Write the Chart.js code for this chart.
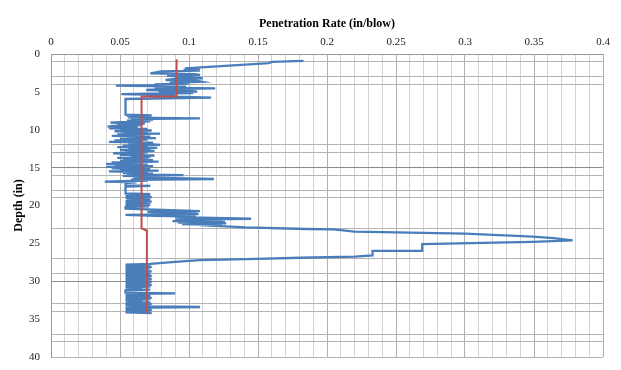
<!DOCTYPE html>
<html>
<head>
<meta charset="utf-8">
<script src="https://cdn.jsdelivr.net/npm/chart.js@4/dist/chart.umd.min.js"></script>
<style>
  body { margin: 0; background: #fff; }
</style>
</head>
<body>
<canvas id="myChart" width="621" height="370"></canvas>
<script>
/* globals Chart */

// penetration per blow (depth in inches, rate in in/blow)
const depthIn = [
  0.9, 1.05, 1.2, 1.9, 2.0, 2.1, 2.2, 2.3, 2.55, 2.65,
  2.77, 2.9, 3.0, 3.1, 3.2, 3.3, 3.43, 3.55, 3.65, 3.8,
  3.9, 4.0, 4.1, 4.18, 4.3, 4.4, 4.53, 4.65, 4.75, 4.85,
  4.97, 5.05, 5.15, 5.3, 5.45, 5.55, 5.65, 5.77, 5.94, 8.0,
  8.1, 8.2, 8.3, 8.4, 8.5, 8.6, 8.7, 8.8, 8.9, 9.0,
  9.07, 9.2, 9.3, 9.4, 9.5, 9.6, 9.7, 9.8, 9.9,
  10.0, 10.1, 10.2, 10.3, 10.4, 10.5, 10.6, 10.7, 10.8, 10.9,
  11.0, 11.1, 11.2, 11.3, 11.4, 11.5, 11.6, 11.7, 11.8, 11.9,
  12.0, 12.1, 12.2, 12.3, 12.4, 12.5, 12.6, 12.7, 12.8, 12.9,
  13.0, 13.1, 13.2, 13.3, 13.4, 13.5, 13.6, 13.7, 13.8, 13.9,
  14.0, 14.1, 14.2, 14.3, 14.4, 14.5, 14.6, 14.7, 14.8, 14.9,
  15.0, 15.1, 15.2, 15.3, 15.4, 15.5, 15.6, 15.7, 15.8, 15.9,
  16.0,
  16.1, 16.2, 16.3, 16.5, 16.6, 16.7, 16.85, 16.95, 17.05, 17.35,
  17.4, 17.5, 18.4,
  18.5, 18.6, 18.7, 18.8, 18.9, 19.0, 19.1, 19.2, 19.3, 19.4,
  19.5, 19.6, 19.7, 19.8, 19.9, 20.0, 20.1, 20.2,
  20.4, 20.75, 20.85, 20.95, 21.05, 21.15, 21.25, 21.35, 21.45, 21.55,
  21.75, 21.85, 21.95, 22.05, 22.15, 22.25, 22.35, 22.45, 22.55, 22.6,
  22.9, 23.1, 23.15, 23.45, 23.7, 24.1, 24.3, 24.6, 24.8, 25.1,
  26.0, 26.0, 26.6, 26.75, 26.9, 27.05, 27.2, 27.45, 27.7,
  27.8, 27.9, 28.0, 28.1, 28.2, 28.3, 28.4, 28.5, 28.6, 28.7,
  28.8, 28.9, 29.0, 29.1, 29.2, 29.3, 29.4, 29.5, 29.6, 29.7,
  29.8, 29.9, 30.0, 30.1, 30.2, 30.3, 30.4, 30.5, 30.6, 30.7,
  30.8, 30.9, 31.0, 31.1, 31.2, 31.5, 31.6, 31.7, 31.8, 31.9,
  32.0, 32.1, 32.2, 32.3, 32.4, 32.5, 32.6, 32.7, 32.8, 32.9,
  33.0, 33.1, 33.2, 33.3, 33.4, 33.5, 33.6, 33.7, 33.8, 33.9,
  34.0, 34.1, 34.2,
];
const rateBlow = [
  0.183, 0.160, 0.158, 0.097, 0.108, 0.096, 0.108, 0.080, 0.072, 0.104,
  0.108, 0.084, 0.102, 0.090, 0.110, 0.090, 0.083, 0.106, 0.109, 0.086,
  0.100, 0.075, 0.082, 0.047, 0.098, 0.075, 0.119, 0.080, 0.069, 0.100,
  0.106, 0.078, 0.103, 0.051, 0.090, 0.072, 0.098, 0.116, 0.054, 0.054,
  0.073, 0.055, 0.072, 0.056, 0.108, 0.058, 0.074, 0.055, 0.072, 0.050,
  0.043, 0.068, 0.048, 0.066, 0.045, 0.041, 0.063, 0.042, 0.070,
  0.050, 0.073, 0.046, 0.070, 0.052, 0.079, 0.048, 0.068, 0.044, 0.072,
  0.055, 0.076, 0.050, 0.070, 0.046, 0.066, 0.042, 0.074, 0.056, 0.072,
  0.079, 0.052, 0.070, 0.048, 0.077, 0.056, 0.072, 0.050, 0.075, 0.054,
  0.070, 0.045, 0.068, 0.050, 0.075, 0.058, 0.072, 0.048, 0.070, 0.052,
  0.074, 0.050, 0.078, 0.044, 0.066, 0.040, 0.070, 0.046, 0.074, 0.040,
  0.068, 0.044, 0.072, 0.050, 0.078, 0.042, 0.070, 0.052, 0.074, 0.055,
  0.096,
  0.052, 0.072, 0.060, 0.118, 0.058, 0.070, 0.039, 0.062, 0.054, 0.054,
  0.072, 0.054, 0.054,
  0.072, 0.054, 0.072, 0.054, 0.073, 0.054, 0.072, 0.055, 0.072, 0.054,
  0.073, 0.054, 0.072, 0.054, 0.072, 0.054, 0.071, 0.054,
  0.054, 0.108, 0.070, 0.106, 0.072, 0.107, 0.054, 0.075, 0.105, 0.090,
  0.145, 0.090, 0.124, 0.088, 0.126, 0.092, 0.127, 0.095, 0.124, 0.108,
  0.141, 0.185, 0.205, 0.220, 0.300, 0.349, 0.364, 0.378, 0.349, 0.269,
  0.269, 0.233, 0.233, 0.220, 0.181, 0.149, 0.108, 0.090, 0.072,
  0.054, 0.072, 0.054, 0.073, 0.054, 0.072, 0.054, 0.071, 0.054, 0.073,
  0.054, 0.072, 0.054, 0.072, 0.054, 0.073, 0.054, 0.072, 0.054, 0.073,
  0.054, 0.072, 0.054, 0.073, 0.054, 0.072, 0.054, 0.073, 0.054, 0.072,
  0.054, 0.066, 0.054, 0.072, 0.054, 0.054, 0.090, 0.054, 0.072, 0.054,
  0.072, 0.054, 0.073, 0.054, 0.072, 0.054, 0.066, 0.054, 0.072, 0.054,
  0.073, 0.054, 0.072, 0.054, 0.108, 0.054, 0.072, 0.054, 0.073, 0.054,
  0.072, 0.054, 0.073,
];

// average rate per layer (red step line)
const avgDepth = [0.7, 5.6, 5.6, 23.0, 23.3, 34.2];
const avgRate = [0.091, 0.091, 0.0656, 0.0656, 0.0695, 0.0695];

// the horizontal grid lines that actually show in the original
const shownDepthLines = [0, 1, 3, 4, 12, 13, 15, 16, 18, 19, 23, 27, 29, 30, 33, 34, 37, 38, 40];

const serif = "'Liberation Serif', 'Times New Roman', serif";

const ctx = document.getElementById("myChart").getContext("2d");

const myChart = new Chart(ctx, {
  type: "scatter",
  data: {
    datasets: [
      {
        label: "Average",
        data: avgDepth.map((d, i) => ({ x: avgRate[i], y: d })),
        showLine: true,
        borderColor: "#c0504d",
        borderWidth: 2,
        pointRadius: 0,
        order: 0,
      },
      {
        label: "Penetration",
        data: depthIn.map((d, i) => ({ x: rateBlow[i], y: d })),
        showLine: true,
        borderColor: "#4a7ebb",
        borderWidth: 2.3,
        pointRadius: 0,
        order: 1,
      },
    ],
  },
  options: {
    responsive: false,
    animation: false,
    events: [],
    layout: { padding: { left: 0, right: 18, top: 0, bottom: 13 } },
    plugins: {
      legend: { display: false },
      tooltip: { enabled: false },
    },
    scales: {
      x: {
        type: "linear",
        position: "top",
        min: 0,
        max: 0.4,
        afterFit(scale) {
          scale.height = 54;
        },
        title: {
          display: true,
          text: "Penetration Rate (in/blow)",
          color: "#000",
          font: { family: serif, size: 12, weight: "bold" },
          padding: { top: 17, bottom: 0 },
        },
        ticks: {
          stepSize: 0.01,
          autoSkip: false,
          maxRotation: 0,
          padding: 5,
          color: "#222",
          font: { family: serif, size: 11 },
          callback(v) {
            const h = Math.round(v * 100);
            return h % 5 === 0 ? String(h / 100) : "";
          },
        },
        grid: {
          drawTicks: false,
          color(c) {
            const h = Math.round(c.tick.value * 100);
            return h % 5 === 0 ? "#b0b0b0" : "#d4d4d4";
          },
          lineWidth: 1,
        },
        border: { display: true, color: "#999" },
      },
      y: {
        type: "linear",
        reverse: true,
        min: 0,
        max: 40,
        afterFit(scale) {
          scale.width = 51;
          scale.paddingTop = 0;
          scale.paddingBottom = 0;
        },
        title: {
          display: true,
          text: "Depth (in)",
          color: "#000",
          font: { family: serif, size: 12, weight: "bold" },
          padding: { top: 12, bottom: 0 },
        },
        ticks: {
          stepSize: 1,
          autoSkip: false,
          padding: 11,
          color: "#222",
          font: { family: serif, size: 11 },
          callback(v) {
            return v % 5 === 0 ? String(v) : "";
          },
        },
        grid: {
          drawTicks: false,
          color(c) {
            const v = Math.round(c.tick.value);
            if (!shownDepthLines.includes(v)) return "rgba(0,0,0,0)";
            return v % 15 === 0 ? "#8c8c8c" : "#b4b4b4";
          },
          lineWidth: 1,
        },
        border: { display: true, color: "#999" },
      },
    },
  },
});
</script>
</body>
</html>
